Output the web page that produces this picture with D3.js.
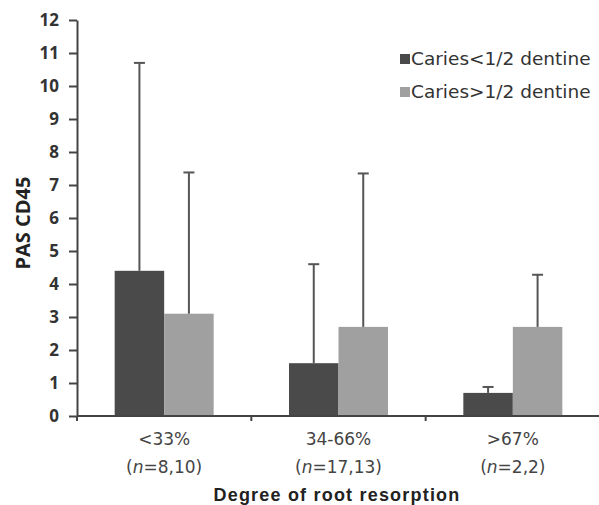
<!DOCTYPE html>
<html><head><meta charset="utf-8">
<script src="https://cdn.jsdelivr.net/npm/d3@7"></script>
<style>body{margin:0;background:#fff}svg{display:block}</style>
</head><body>
<script>
const categories = ["<33%", "34-66%", ">67%"];
const nLabels = ["8,10", "17,13", "2,2"];
const seriesNames = ["Caries<1/2 dentine", "Caries>1/2 dentine"];
const meanLow = [4.4, 1.6, 0.7];
const errTopLow = [10.7, 4.6, 0.88];
const meanHigh = [3.1, 2.7, 2.7];
const errTopHigh = [7.38, 7.35, 4.28];
const yTicks = [0,1,2,3,4,5,6,7,8,9,10,11,12];
const colors = ["#4a4a4a", "#a0a0a0"];

const W = 599, H = 505;
const svg = d3.select("body").append("svg").attr("width", W).attr("height", H);
const x0 = 77, x1 = 600, yTop = 20, yBot = 416;
const x = d3.scaleBand().domain(categories).range([x0, x1]).paddingInner(0).paddingOuter(0);
const y = d3.scaleLinear().domain([0, 12]).range([yBot, yTop]);
const barW = 49.5;

const data = categories.map((c, i) => ({c, v: [meanLow[i], meanHigh[i]], e: [errTopLow[i], errTopHigh[i]]}));

// bars
data.forEach(d => {
  [0,1].forEach(s => {
    const cx = x(d.c) + x.bandwidth()/2 + (s === 0 ? -barW : 0);
    svg.append("rect").attr("x", cx).attr("y", y(d.v[s])).attr("width", barW)
      .attr("height", y(0) - y(d.v[s])).attr("fill", colors[s]);
    const mx = cx + barW/2;
    svg.append("line").attr("x1", mx).attr("x2", mx).attr("y1", y(d.v[s])).attr("y2", y(d.e[s]))
      .attr("stroke", "#555").attr("stroke-width", 2);
    svg.append("line").attr("x1", mx - 5.5).attr("x2", mx + 5.5).attr("y1", y(d.e[s])).attr("y2", y(d.e[s]))
      .attr("stroke", "#555").attr("stroke-width", 2);
  });
});

// y axis
const yAxis = d3.axisLeft(y).tickValues(yTicks).tickSize(8).tickPadding(10).tickSizeOuter(0);
const gy = svg.append("g").attr("transform", `translate(${x0},0)`).call(yAxis);
gy.select(".domain").attr("stroke", "#444").attr("stroke-width", 2);
gy.selectAll(".tick line").attr("stroke", "#444").attr("stroke-width", 2);
gy.selectAll(".tick text").attr("font-family", "Open Sans, sans-serif").attr("font-weight", "bold")
  .attr("font-size", 17).attr("fill", "#333");

// x axis
svg.append("line").attr("x1", x0).attr("x2", x1).attr("y1", yBot).attr("y2", yBot)
  .attr("stroke", "#444").attr("stroke-width", 2);
const bounds = categories.map(c => x(c)).concat([x1]);
bounds.forEach(b => svg.append("line").attr("x1", b).attr("x2", b).attr("y1", yBot).attr("y2", yBot + 5)
  .attr("stroke", "#444").attr("stroke-width", 2));

// category labels
const catFont = "DejaVu Sans, Verdana, sans-serif";
categories.forEach((c, i) => {
  const cx = x(c) + x.bandwidth()/2;
  svg.append("text").attr("x", cx).attr("y", 445).attr("text-anchor", "middle")
    .attr("font-family", catFont).attr("font-size", 17).attr("fill", "#444").text(c);
  const t = svg.append("text").attr("x", cx).attr("y", 473).attr("text-anchor", "middle")
    .attr("font-family", catFont).attr("font-size", 17).attr("fill", "#444");
  t.append("tspan").text("(");
  t.append("tspan").attr("font-style", "italic").text("n");
  t.append("tspan").text("=" + nLabels[i] + ")");
});

// axis titles
svg.append("text").attr("x", 337).attr("y", 501).attr("text-anchor", "middle")
  .attr("font-family", "Liberation Sans, Arial, sans-serif").attr("font-weight", "bold").attr("font-size", 18)
  .attr("letter-spacing", 1.2).attr("fill", "#222").text("Degree of root resorption");
svg.append("text").attr("transform", "translate(30,223) rotate(-90)").attr("text-anchor", "middle")
  .attr("font-family", "Open Sans, sans-serif").attr("font-weight", "bold").attr("font-size", 20)
  .attr("fill", "#222").text("PAS CD45");

// legend
seriesNames.forEach((s, i) => {
  const ly = 65 + i * 33;
  svg.append("rect").attr("x", 400).attr("y", ly - 11).attr("width", 10).attr("height", 10).attr("fill", colors[i]);
  svg.append("text").attr("x", 411).attr("y", ly).attr("font-family", "DejaVu Sans, Verdana, sans-serif")
    .attr("font-size", 18.5).attr("fill", "#333").text(s);
});
</script>
</body></html>
